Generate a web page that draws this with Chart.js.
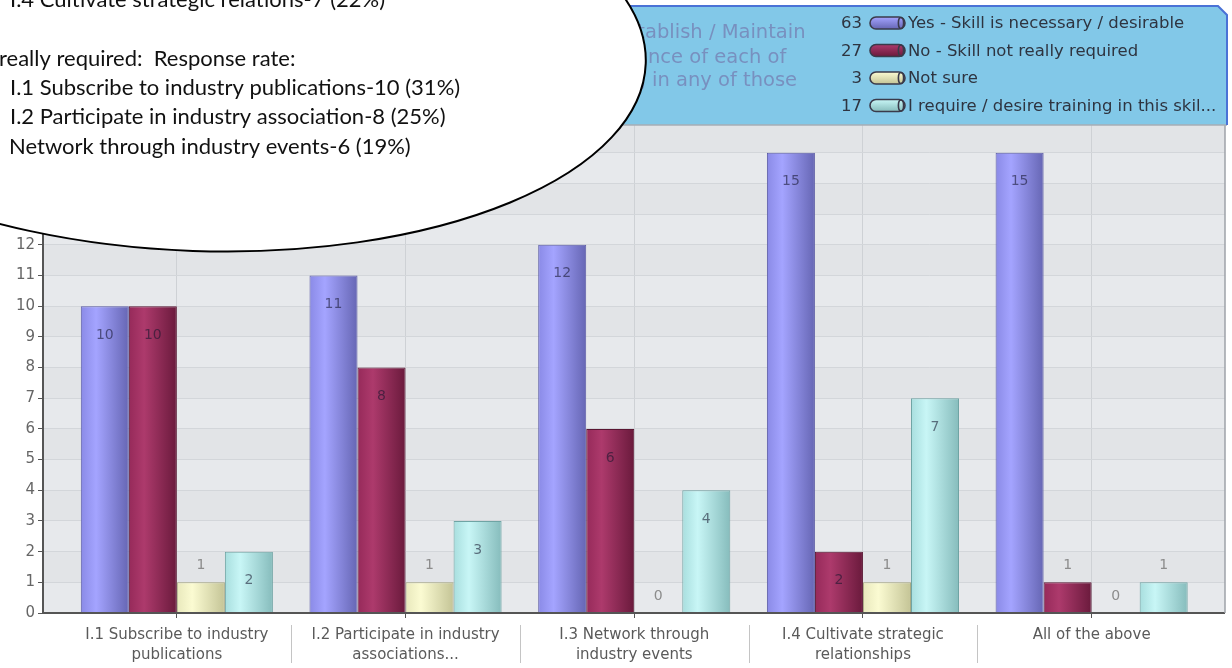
<!DOCTYPE html>
<html>
<head>
<meta charset="utf-8">
<script src="https://cdn.jsdelivr.net/npm/chart.js@4/dist/chart.umd.min.js"></script>
<style>
  html, body { margin: 0; padding: 0; background: #fff; }
  #wrap { width: 1232px; height: 668px; position: relative; }
</style>
</head>
<body>
<div id="wrap"><canvas id="skillsChart" width="1232" height="668"></canvas></div>
<script>
// Survey answers per skill item
const categories = [
  ["I.1 Subscribe to industry", "publications"],
  ["I.2 Participate in industry", "associations..."],
  ["I.3 Network through", "industry events"],
  ["I.4 Cultivate strategic", "relationships"],
  "All of the above",
]
const seriesNames = [
  "Yes - Skill is necessary / desirable",
  "No - Skill not really required",
  "Not sure",
  "I require / desire training in this skil...",
]
const yesValues = [10, 11, 12, 15, 15]
const noValues = [10, 8, 6, 2, 1]
const notSureValues = [1, 1, 0, 1, 0]
const trainingValues = [2, 3, 4, 7, 1]
const yTicks = [0, 16, 1] // min, max, step

const headerLines = [
  ["I. Est", "ablish / Maintain"],
  ["the importa", "nce of each of"],
  ["training ", "in any of those"],
]
const noteLines = [
  "I.4 Cultivate strategic relations-7 (22%)",
  "",
  "really required:  Response rate:",
  "I.1 Subscribe to industry publications-10 (31%)",
  "I.2 Participate in industry association-8 (25%)",
  "Network through industry events-6 (19%)",
]

// cylinder-ish shading: edge, highlight, shadow, outline
const palette = [
  ["#8a8ae6", "#a4a4ff", "#6666b4", "#5c5ca6"],
  ["#962a5a", "#ad3a6c", "#6a1a3c", "#5a1632"],
  ["#e8e8bc", "#fbfbd2", "#c4c496", "#a8a880"],
  ["#a8dede", "#c8f6f6", "#86bcbc", "#6fa4a4"],
]

const sum = (arr) => arr.reduce((a, b) => a + b, 0)
const FONT = "'DejaVu Sans', Verdana, sans-serif"

function shade(ctx, colors, x0, x1) {
  const g = ctx.createLinearGradient(x0, 0, x1, 0)
  g.addColorStop(0, colors[0])
  g.addColorStop(0.32, colors[1])
  g.addColorStop(1, colors[2])
  return g
}

// narrows the category band so bars sit away from both plot edges
const insetX = {
  id: "insetX",
  afterLayout(chart) {
    const x = chart.scales.x
    const area = chart.chartArea
    x.left = area.left + 19.5
    x.right = area.right - 19
    x.width = x.right - x.left
    x.configure()
  },
}

const plotFrame = {
  id: "plotFrame",
  beforeDraw(chart) {
    const { ctx, chartArea: a, scales } = chart
    ctx.save()
    ctx.fillStyle = "#ffffff"
    ctx.fillRect(0, 0, chart.width, chart.height)
    ctx.fillStyle = "#e7e9ec"
    ctx.fillRect(a.left, a.top, a.right - a.left, a.bottom - a.top)
    // faint alternate row bands
    ctx.fillStyle = "#e2e4e7"
    for (let v = yTicks[0]; v < yTicks[1]; v += 2) {
      const y0 = scales.y.getPixelForValue(v + 1)
      const y1 = scales.y.getPixelForValue(v + 2)
      ctx.fillRect(a.left, y1, a.right - a.left, y0 - y1)
    }
    ctx.restore()
  },
  beforeDatasetsDraw(chart) {
    const { ctx } = chart
    chart.data.datasets.forEach((ds, i) => {
      chart.getDatasetMeta(i).data.forEach((bar) => {
        bar.options.backgroundColor = shade(ctx, palette[i], bar.x - bar.width / 2, bar.x + bar.width / 2)
      })
    })
  },
  afterDatasetsDraw(chart) {
    const { ctx, chartArea: a, scales } = chart
    ctx.save()
    // value labels
    ctx.font = `14px ${FONT}`
    ctx.textAlign = "center"
    ctx.textBaseline = "middle"
    chart.data.datasets.forEach((ds, i) => {
      chart.getDatasetMeta(i).data.forEach((bar, j) => {
        const v = ds.data[j]
        if (v >= 2) {
          ctx.fillStyle = "rgba(20, 20, 45, 0.58)"
          ctx.fillText(String(v), bar.x, bar.y + 29)
        } else {
          ctx.fillStyle = "#8c8c8c"
          ctx.fillText(String(v), bar.x, bar.y - 17)
        }
      })
    })
    // axis line and right edge
    ctx.strokeStyle = "#555"
    ctx.lineWidth = 2
    ctx.beginPath()
    ctx.moveTo(a.left - 1, a.bottom)
    ctx.lineTo(a.right, a.bottom)
    ctx.stroke()
    ctx.strokeStyle = "#9ea2a8"
    ctx.lineWidth = 1.5
    ctx.beginPath()
    ctx.moveTo(a.right, a.top)
    ctx.lineTo(a.right, a.bottom)
    ctx.stroke()
    // separators between category labels
    const x = scales.x
    ctx.strokeStyle = "#c4c4c4"
    ctx.lineWidth = 1
    for (let i = 0; i < categories.length - 1; i++) {
      const m = (x.getPixelForValue(i) + x.getPixelForValue(i + 1)) / 2
      ctx.beginPath()
      ctx.moveTo(Math.round(m) + 0.5, a.bottom + 12)
      ctx.lineTo(Math.round(m) + 0.5, a.bottom + 50)
      ctx.stroke()
    }
    ctx.restore()
  },
  afterDraw(chart) {
    const { ctx } = chart
    ctx.save()
    // header band
    ctx.beginPath()
    ctx.moveTo(400, 6)
    ctx.lineTo(1218, 6)
    ctx.lineTo(1227, 15)
    ctx.lineTo(1227, 125)
    ctx.lineTo(400, 125)
    ctx.closePath()
    ctx.fillStyle = "#82c8e8"
    ctx.fill()
    ctx.strokeStyle = "#a6aeb6"
    ctx.lineWidth = 1.5
    ctx.beginPath()
    ctx.moveTo(400, 125)
    ctx.lineTo(1227, 125)
    ctx.stroke()
    ctx.strokeStyle = "#4a72d6"
    ctx.lineWidth = 2
    ctx.beginPath()
    ctx.moveTo(400, 6)
    ctx.lineTo(1218, 6)
    ctx.lineTo(1227, 15)
    ctx.lineTo(1227, 125)
    ctx.stroke()

    // header question text
    ctx.font = `19.5px ${FONT}`
    ctx.fillStyle = "#7890bf"
    ctx.textAlign = "left"
    ctx.textBaseline = "alphabetic"
    const starts = [645, 648, 652]
    const bases = [38, 63, 86]
    headerLines.forEach(([hidden, shown], i) => {
      ctx.fillText(hidden + shown, starts[i] - ctx.measureText(hidden).width, bases[i])
    })

    // legend with totals
    const totals = [yesValues, noValues, notSureValues, trainingValues].map(sum)
    ctx.font = `16.5px ${FONT}`
    seriesNames.forEach((name, i) => {
      const cy = 23 + i * 27.5
      ctx.fillStyle = "#2e3440"
      ctx.textAlign = "right"
      ctx.textBaseline = "middle"
      ctx.fillText(String(totals[i]), 862, cy + 1)
      // pill icon
      const x0 = 870, w = 35, h = 12
      const g = ctx.createLinearGradient(0, cy - h / 2, 0, cy + h / 2)
      g.addColorStop(0, palette[i][1])
      g.addColorStop(1, palette[i][2])
      ctx.beginPath()
      ctx.roundRect(x0, cy - h / 2, w, h, 6)
      ctx.fillStyle = g
      ctx.fill()
      ctx.strokeStyle = "#3a3a4a"
      ctx.lineWidth = 1.6
      ctx.stroke()
      ctx.beginPath()
      ctx.ellipse(x0 + w - 4, cy, 2.6, h / 2 - 0.5, 0, 0, Math.PI * 2)
      ctx.stroke()
      ctx.fillStyle = "#2e3440"
      ctx.textAlign = "left"
      ctx.fillText(name, 908, cy + 1)
    })

    // callout bubble
    ctx.beginPath()
    ctx.ellipse(200, 48, 446, 203, 0.035, 0, Math.PI * 2)
    ctx.fillStyle = "#ffffff"
    ctx.fill()
    ctx.strokeStyle = "#000"
    ctx.lineWidth = 2
    ctx.stroke()

    ctx.font = `22px Lato, 'Open Sans', sans-serif`
    ctx.fillStyle = "#111"
    ctx.textAlign = "left"
    ctx.textBaseline = "alphabetic"
    const lineX = [10, 0, -1, 10, 10, 9]
    noteLines.forEach((t, i) => {
      if (t) ctx.fillText(t, lineX[i], 7 + i * 29.3)
    })
    ctx.restore()
  },
}

const datasets = [yesValues, noValues, notSureValues, trainingValues].map((values, i) => ({
  label: seriesNames[i],
  data: values,
  backgroundColor: () => palette[i][1],
  borderColor: palette[i][3],
  borderWidth: 1,
  borderSkipped: "bottom",
  categoryPercentage: 0.84,
  barPercentage: 1,
}))

new Chart(document.getElementById("skillsChart"), {
  type: "bar",
  data: { labels: categories, datasets },
  options: {
    responsive: false,
    animation: false,
    events: [],
    layout: { padding: { top: 122, right: 7, left: 0, bottom: 0 } },
    plugins: { legend: { display: false }, tooltip: { enabled: false } },
    scales: {
      x: {
        offset: true,
        grid: { offset: false, color: "#ced1d5", tickColor: "#555", tickLength: 5, lineWidth: 1 },
        border: { display: false },
        ticks: {
          color: "#5a5a5a",
          font: { family: FONT, size: 15, lineHeight: 1.35 },
          padding: 7,
          maxRotation: 0,
          autoSkip: false,
        },
        afterFit: (s) => { s.height = 55 },
      },
      y: {
        min: yTicks[0],
        max: yTicks[1],
        grid: { color: "#d3d6da", tickColor: "#555", tickLength: 5 },
        border: { display: true, color: "#555", width: 2 },
        ticks: { stepSize: yTicks[2], color: "#666", font: { family: FONT, size: 15 }, padding: 3 },
        afterFit: (s) => { s.width = 43 },
      },
    },
  },
  plugins: [insetX, plotFrame],
})
</script>
</body>
</html>
